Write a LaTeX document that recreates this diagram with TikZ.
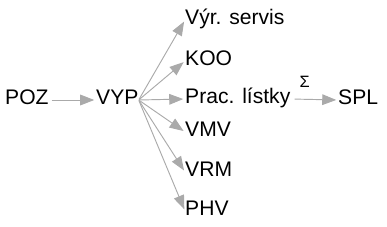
\documentclass[tikz,border=0pt]{standalone}
\usepackage{fontspec}
\setmainfont{Liberation Sans}
\usetikzlibrary{arrows.meta,positioning}
\definecolor{arrgray}{RGB}{170,170,170}

\begin{document}
\begin{tikzpicture}[x=0.03cm,y=-0.03cm,
  lbl/.style={anchor=west,inner sep=0pt,font=\fontsize{18}{20}\selectfont,text height=0.72em,text depth=0pt},
  flow/.style={draw=arrgray,line width=0.8pt,-{Triangle[length=0.42cm,width=0.32cm,fill=arrgray]},shorten <=2.5pt,shorten >=1.5pt}]
\useasboundingbox (0,0) rectangle (387,227);
\node[lbl] (poz) at (5,100) {POZ};
\node[lbl] (vyp) at (96,100) {VYP};
\node[lbl] (vyr) at (185,20) {Výr. servis};
\node[lbl] (koo) at (185,61) {KOO};
\node[lbl] (prac) at (185,99) {Prac. lístky};
\node[lbl] (vmv) at (185,132) {VMV};
\node[lbl] (vrm) at (185,172) {VRM};
\node[lbl] (phv) at (185,211) {PHV};
\node[lbl] (spl) at (338,100) {SPL};
\draw[flow] (poz.east) -- (vyp.west);
\foreach \t in {vyr,koo,prac,vmv,vrm,phv}
  \draw[flow,shorten <=0.5pt] (vyp.east) -- (\t.west);
\draw[flow,shorten <=3.5pt] (prac.east) -- node[pos=0.3,above=10pt,inner sep=0pt,font=\fontsize{14}{16}\selectfont] (sum) {Σ} (spl.west);
\end{tikzpicture}
\end{document}
